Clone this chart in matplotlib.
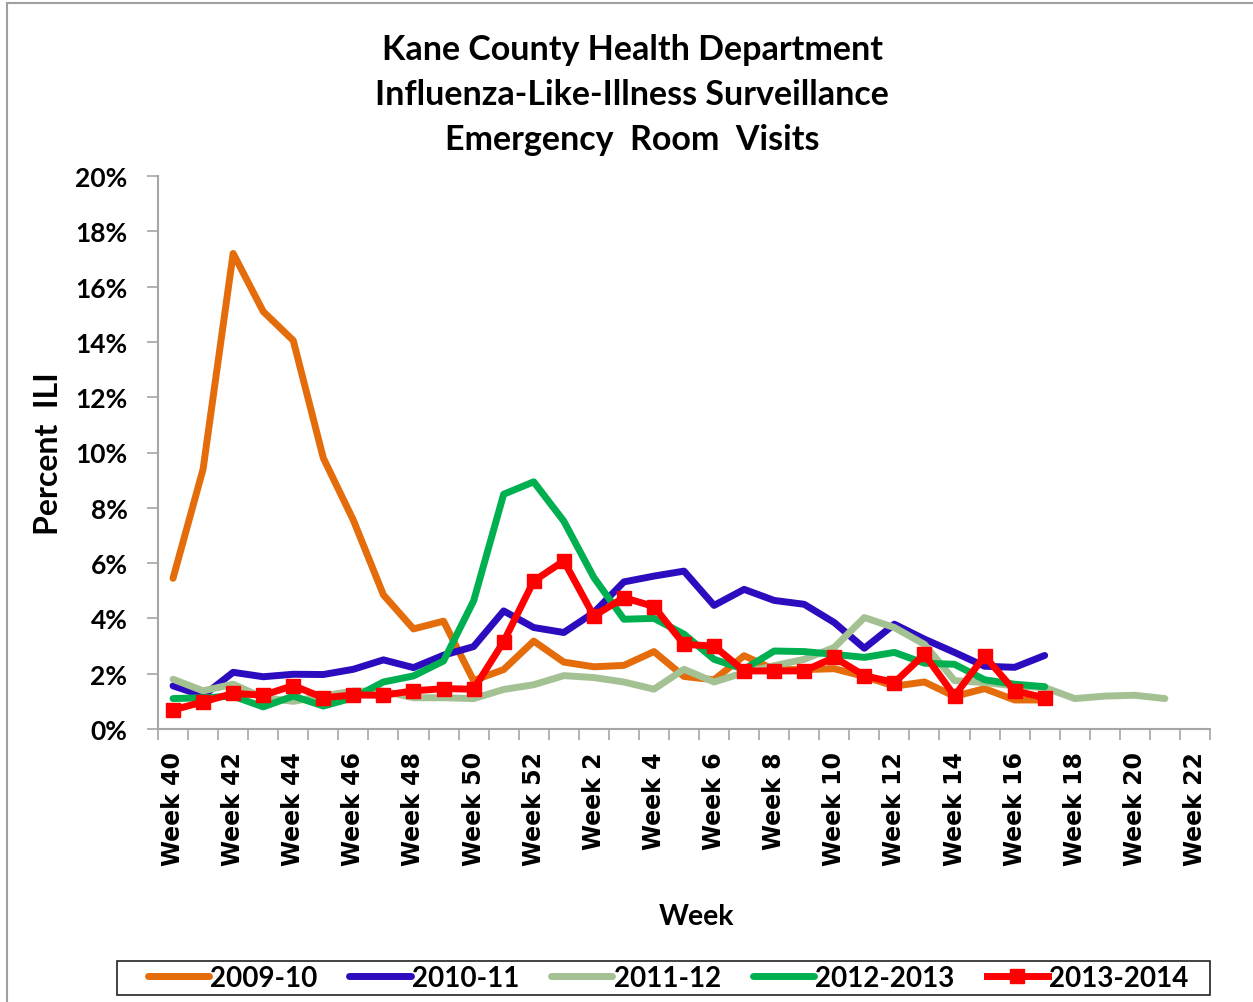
import matplotlib
matplotlib.use('Agg')
import matplotlib.pyplot as plt
import matplotlib.patches as patches
from matplotlib.lines import Line2D
import numpy as np

# categorie: settimane 40..52 e poi 1..22
weeks = [f'Week {w}' for w in list(range(40, 53)) + list(range(1, 23))]

# valori % ILI
ili_2009_10 = [5.45, 9.4, 17.2, 15.1, 14.05, 9.8, 7.55, 4.85, 3.62, 3.9,
               1.75, 2.15, 3.18, 2.42, 2.25, 2.3, 2.8, 1.9, 1.78, 2.65,
               2.15, 2.15, 2.18, 1.9, 1.55, 1.7, 1.18, 1.46, 1.05, 1.05]
ili_2010_11 = [1.56, 1.2, 2.05, 1.89, 1.98, 1.97, 2.16, 2.5, 2.22, 2.67,
               2.98, 4.27, 3.67, 3.49, 4.21, 5.32, 5.53, 5.71, 4.47, 5.05,
               4.65, 4.51, 3.85, 2.92, 3.79, 3.25, 2.77, 2.27, 2.23, 2.66]
ili_2011_12 = [1.8, 1.38, 1.62, 1.13, 1.0, 1.2, 1.37, 1.37, 1.13, 1.13,
               1.1, 1.43, 1.6, 1.93, 1.86, 1.7, 1.44, 2.16, 1.7, 2.04,
               2.29, 2.52, 2.95, 4.03, 3.67, 3.06, 1.75, 1.68, 1.56, 1.5,
               1.1, 1.19, 1.22, 1.1]
ili_2012_13 = [1.1, 1.13, 1.19, 0.8, 1.19, 0.83, 1.13, 1.7, 1.92, 2.46,
               4.63, 8.49, 8.94, 7.52, 5.48, 3.97, 4.0, 3.43, 2.52, 2.16,
               2.82, 2.8, 2.7, 2.59, 2.77, 2.38, 2.34, 1.78, 1.62, 1.53]
ili_2013_14 = [0.69, 0.98, 1.29, 1.22, 1.57, 1.13, 1.23, 1.22, 1.38, 1.46,
               1.44, 3.16, 5.35, 6.08, 4.09, 4.75, 4.43, 3.06, 3.0, 2.1,
               2.1, 2.1, 2.59, 1.93, 1.68, 2.7, 1.2, 2.64, 1.38, 1.13]

season_names = ['2009-10', '2010-11', '2011-12', '2012-2013', '2013-2014']
season_data = [ili_2009_10, ili_2010_11, ili_2011_12, ili_2012_13, ili_2013_14]
season_colors = ['#E46C0A', '#2D0BBE', '#A4C194', '#00B050', '#FF0000']

plt.rcParams['font.family'] = ['Lato', 'DejaVu Sans']
plt.rcParams['font.weight'] = 'bold'

W, H = 1253, 1003
fig = plt.figure(figsize=(W / 100, H / 100), dpi=100)
ax = fig.add_axes([158 / W, 1 - 730 / H, 1052 / W, 553 / H])

for name, vals, col in zip(season_names, season_data, season_colors):
    x = np.arange(len(vals))
    if name == '2013-2014':
        ax.plot(x, vals, color=col, lw=5, marker='s', markersize=10,
                solid_joinstyle='miter', label=name)
    else:
        ax.plot(x, vals, color=col, lw=5, solid_capstyle='round',
                solid_joinstyle='round', label=name)

# assi
ax.set_xlim(-0.5, len(weeks) - 0.5)
ax.set_ylim(0, 20)
ax.set_yticks(np.arange(0, 21, 2))
ax.set_yticklabels([f'{v}%' for v in range(0, 21, 2)], fontsize=19, fontweight='bold')

ax.set_xticks(np.arange(-0.5, len(weeks), 1))
ax.set_xticklabels([])
ax.set_xticks(np.arange(0, len(weeks), 2), minor=True)
ax.set_xticklabels(weeks[::2], minor=True, rotation=90, fontsize=17,
                   fontweight='bold', family='DejaVu Sans')

grey = '#A6A6A6'
for side in ['top', 'right']:
    ax.spines[side].set_visible(False)
for side in ['left', 'bottom']:
    ax.spines[side].set_color(grey)
    ax.spines[side].set_linewidth(1.5)
ax.tick_params(axis='y', length=8, width=1.2, color=grey, pad=14)
ax.tick_params(axis='x', which='major', length=8, width=1.2, color=grey)
ax.tick_params(axis='x', which='minor', length=0, pad=16)

ax.set_ylabel('Percent  ILI', fontsize=23, fontweight='bold')
ax.yaxis.set_label_coords(-0.09, 0.5)
ax.set_xlabel('Week', fontsize=20.5, fontweight='bold', va='center')
ax.xaxis.set_label_coords(0.512, -0.338)

fig.text(632 / W, 1 - 95 / H,
         'Kane County Health Department\nInfluenza-Like-Illness Surveillance\nEmergency  Room  Visits',
         ha='center', va='center', fontsize=24.5, fontweight='bold', linespacing=1.5)

# legenda senza cornice + riquadro disegnato a parte
handles = []
for name, col in zip(season_names, season_colors):
    if name == '2013-2014':
        handles.append(Line2D([], [], color=col, lw=5, marker='s', markersize=10))
    else:
        handles.append(Line2D([], [], color=col, lw=5, solid_capstyle='round'))
fig.legend(handles, season_names, loc='center', ncol=5, frameon=False,
           bbox_to_anchor=(668 / W, 1 - 979 / H), borderpad=0,
           handlelength=2.2, handletextpad=0.05, columnspacing=1.15,
           prop={'weight': 'bold', 'size': 20})
fig.add_artist(patches.Rectangle((117 / W, 1 - 996 / H), (1210 - 117) / W, 34 / H,
                                 transform=fig.transFigure, fill=False,
                                 edgecolor='#222222', lw=1.2))

# bordo esterno del grafico
fig.add_artist(patches.Rectangle((7 / W, -0.02), 1.05, (H - 4) / H + 0.02,
                                 transform=fig.transFigure, fill=False,
                                 edgecolor='#A0A0A0', lw=1.5))

fig.savefig('out.png', dpi=100)
